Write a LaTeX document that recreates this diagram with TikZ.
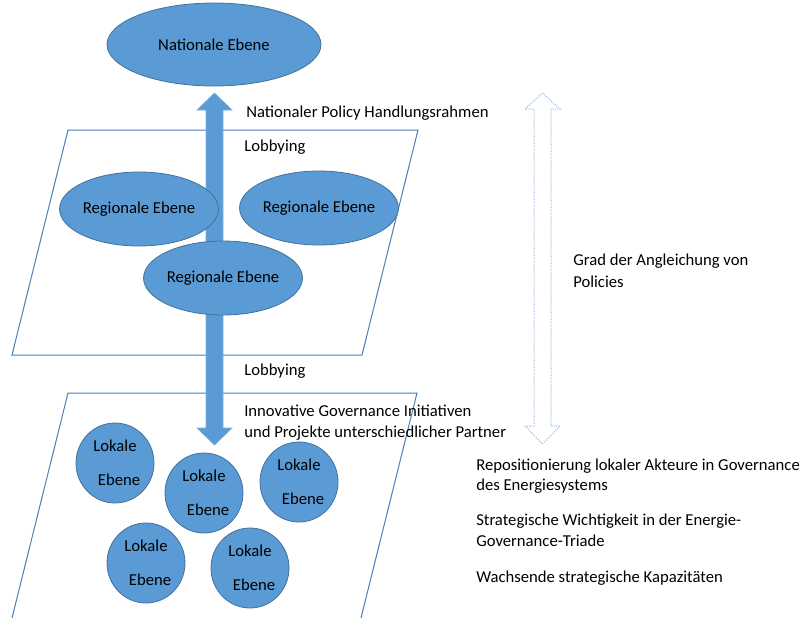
\documentclass[tikz,border=0pt]{standalone}
\usepackage{fontspec}
\setmainfont{Carlito}
\usetikzlibrary{shapes.geometric}
\definecolor{fillblue}{HTML}{5B9BD5}
\definecolor{edgeblue}{HTML}{41719C}
\definecolor{planeblue}{HTML}{4A7EBB}
\definecolor{dotblue}{HTML}{8FB4DE}
\begin{document}
\begin{tikzpicture}[x=0.75pt,y=-0.75pt,
  font=\fontsize{12.5}{15.75}\selectfont,
  level/.style={ellipse, fill=fillblue, draw=edgeblue, line width=0.6pt, inner sep=0pt, text=black},
  national/.style={level, minimum width=160.5pt, minimum height=62.25pt},
  regional/.style={level, minimum width=116.25pt, minimum height=55.5pt},
  local/.style={level, minimum width=58.5pt, minimum height=60pt, align=center},
  plane/.style={draw=planeblue, line width=0.75pt},
  flow/.style={fill=fillblue, draw=fillblue!80!white, line width=0.5pt},
  degree/.style={draw=dotblue, line width=0.75pt, densely dotted},
  label/.style={anchor=base west, inner sep=0pt, text=black}]
\useasboundingbox (0,0) rectangle (802,617);

% the two layers
\draw[plane] (68,130) -- (418,130) -- (362,355) -- (12,355) -- cycle;
\draw[plane] (68,393) -- (417,393) -- (360,622) -- (11,622) -- cycle;

% vertical policy flow between the levels
\path[flow] (214.5,93) -- (232,110) -- (223,110) -- (223,428) -- (232,428)
  -- (214.5,445) -- (197,428) -- (206,428) -- (206,110) -- (197,110) -- cycle;

% degree of policy alignment
\draw[degree] (542.5,93) -- (560,109) -- (551,109) -- (551,426) -- (560,426)
  -- (542.5,444) -- (525,426) -- (534,426) -- (534,109) -- (525,109) -- cycle;

% levels
\node[national] (nat) at (214,44.5) {Nationale Ebene};
\node[regional] (regA) at (139,209) {Regionale Ebene};
\node[regional] (regB) at (319,208) {Regionale Ebene};
\node[regional] (regC) at (223,278) {Regionale Ebene};

\newcommand{\lokal}{Lokale\\[10pt]\hspace*{6pt}Ebene}
\node[local] (locA) at (115,463) {\lokal};
\node[local] (locB) at (204,493) {\lokal};
\node[local] (locC) at (299,482) {\lokal};
\node[local] (locD) at (146,563) {\lokal};
\node[local] (locE) at (250,568) {\lokal};

% labels
\node[label] (l1) at (246,117) {Nationaler Policy Handlungsrahmen};
\node[label] (l2) at (244,151) {Lobbying};
\node[label] (l3) at (244,375) {Lobbying};
\node[label] (l4) at (244,416) {Innovative Governance Initiativen};
\node[label] (l5) at (244,437) {und Projekte unterschiedlicher Partner};
\node[label] (l6) at (573,265) {Grad der Angleichung von};
\node[label] (l7) at (573,287) {Policies};
\node[label] (l8) at (476,470) {Repositionierung lokaler Akteure in Governance};
\node[label] (l9) at (476,490) {des Energiesystems};
\node[label] (l10) at (476,525) {Strategische Wichtigkeit in der Energie-};
\node[label] (l11) at (476,546) {Governance-Triade};
\node[label] (l12) at (476,582) {Wachsende strategische Kapazitäten};
\end{tikzpicture}
\end{document}
